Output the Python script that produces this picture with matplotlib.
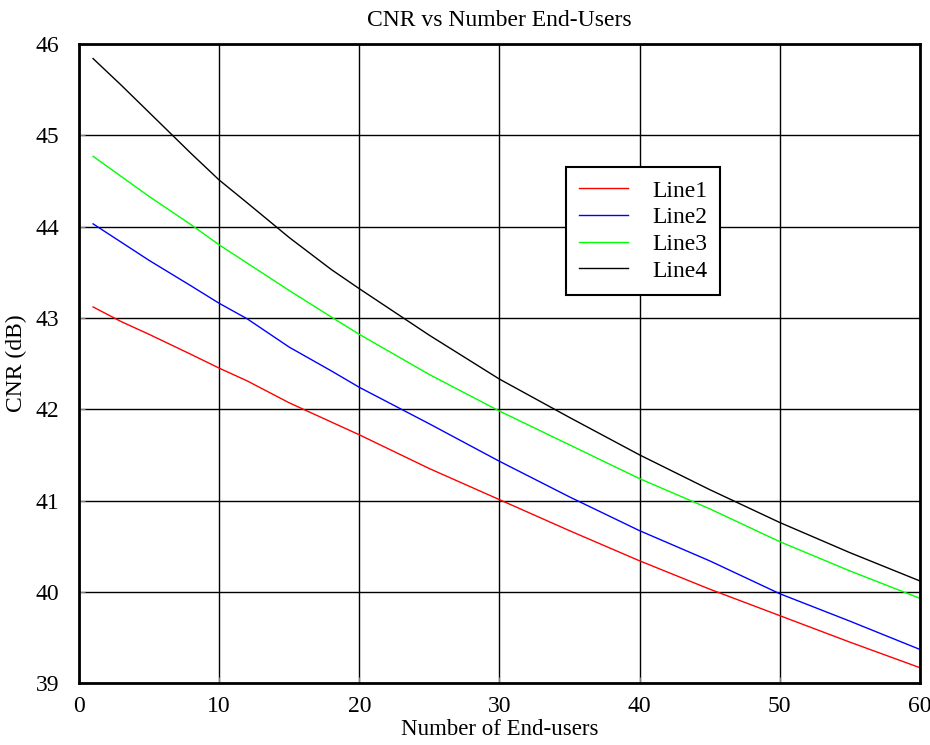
import numpy as np
import matplotlib.pyplot as plt

plt.rcParams['font.family'] = ['Liberation Serif', 'DejaVu Serif']

# Values
users = [1, 3, 5, 8, 10, 12, 15, 18, 20, 25, 30, 35, 40, 45, 50, 55, 60]
line1 = [43.12, 42.96, 42.82, 42.60, 42.45, 42.31, 42.07, 41.86, 41.72, 41.35, 41.01,
         40.67, 40.34, 40.03, 39.74, 39.45, 39.17]
line2 = [44.03, 43.83, 43.63, 43.35, 43.16, 42.99, 42.68, 42.42, 42.24, 41.84, 41.43,
         41.04, 40.67, 40.34, 39.98, 39.68, 39.37]
line3 = [44.77, 44.55, 44.33, 44.02, 43.80, 43.60, 43.30, 43.01, 42.82, 42.38, 41.98,
         41.61, 41.24, 40.91, 40.55, 40.23, 39.93]
line4 = [45.84, 45.55, 45.25, 44.80, 44.51, 44.26, 43.88, 43.53, 43.32, 42.81, 42.33,
         41.91, 41.50, 41.12, 40.76, 40.43, 40.12]

fig = plt.figure(figsize=(9.3, 7.45), dpi=100)
ax = fig.add_axes([0.085, 0.083, 0.904, 0.858])

ax.plot(users, line1, color='#ff0000', lw=1, label='Line1')
ax.plot(users, line2, color='#0000ff', lw=1, label='Line2')
ax.plot(users, line3, color='#00ff00', lw=1, label='Line3')
ax.plot(users, line4, color='#000000', lw=1, label='Line4')

ax.set_xlim(0, 60)
ax.set_ylim(39, 46)
ax.set_xticks(np.arange(0, 61, 10))
ax.set_yticks(np.arange(39, 47, 1))
ax.grid(True, color='black', linewidth=1, linestyle='-')
for s in ax.spines.values():
    s.set_linewidth(2)
ax.tick_params(direction='in', length=4, color='gray', labelsize=17)
ax.tick_params(axis='x', pad=9)
ax.tick_params(axis='y', pad=14)

ax.set_xlabel('Number of End-users', fontsize=16.5, labelpad=2)
ax.set_ylabel('CNR (dB)', fontsize=17, labelpad=6)
ax.set_title('CNR vs Number End-Users', fontsize=17, pad=13)

leg = ax.legend(loc='upper left', bbox_to_anchor=(0.579, 0.8075), fontsize=17,
                fancybox=False, framealpha=1, edgecolor='black',
                handlelength=2.1, borderpad=0.55, labelspacing=0.22,
                handletextpad=1.0, borderaxespad=0)
leg.get_frame().set_linewidth(1.5)

fig.savefig('out.png', dpi=100)
